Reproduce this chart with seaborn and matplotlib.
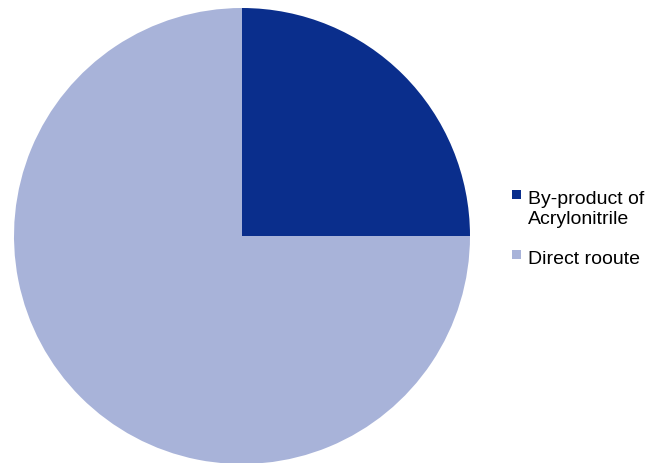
import matplotlib
matplotlib.use("Agg")
import matplotlib.pyplot as plt
from matplotlib.patches import Rectangle
import seaborn as sns

categories = ["By-product of\nAcrylonitrile", "Direct rooute"]
values = [25, 75]
colors = ["#0a2e8c", "#a8b3d9"]

sns.set_theme(style="white")
plt.rcParams['font.family'] = ['Liberation Sans', 'DejaVu Sans']

W, H = 662, 464
fig = plt.figure(figsize=(W / 100, H / 100), dpi=100)
fig.patch.set_facecolor("white")
cx, cy, r = 242, 464 - 237, 228
ax = fig.add_axes([(cx - r) / W, (cy - r) / H, 2 * r / W, 2 * r / H])
wedges, _ = ax.pie(values, colors=colors, startangle=90, counterclock=False,
                   radius=1, wedgeprops=dict(linewidth=0))
ax.set_xlim(-1, 1)
ax.set_ylim(-1, 1)
ax.set_aspect("equal")
ax.axis("off")

# legend drawn manually (pixel layout, y from top)
entry_tops = [191, 251]
line_gap = 20
for label, color, top in zip(categories, colors, entry_tops):
    fig.patches.append(Rectangle((512 / W, 1 - (top + 9) / H), 9 / W, 9 / H,
                                 transform=fig.transFigure, facecolor=color,
                                 edgecolor="none"))
    for i, line in enumerate(label.split("\n")):
        baseline = top + 12.5 + i * line_gap
        fig.text(528 / W, 1 - baseline / H, line, fontsize=14, color="black",
                 ha="left", va="baseline")

fig.savefig("out.png", dpi=100, facecolor="white")
